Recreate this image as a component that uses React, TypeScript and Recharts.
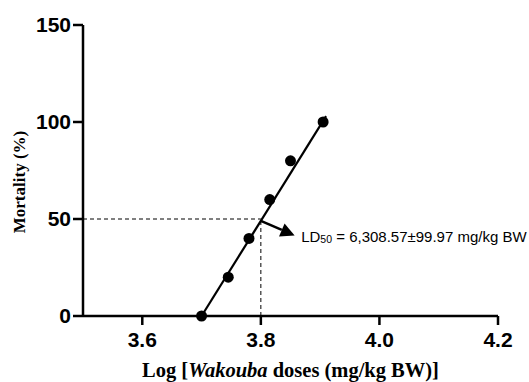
import React from 'react';
import { ComposedChart, Scatter, Line, XAxis, YAxis, ReferenceLine, ReferenceDot } from 'recharts';

// log10 of dose (mg/kg BW) vs mortality (%)
const logDoses = [3.7, 3.745, 3.78, 3.815, 3.85, 3.905];
const mortality = [0, 20, 40, 60, 80, 100];

// regression line ends
const fitLogDoses = [3.7, 3.91];
const fitMortality = [0, 103];

const ld50Log = 3.8;
const ld50Mortality = 50;
const arrowEnd = { x: 3.857, y: 41.5 };
const noteAt = { x: 3.868, y: 38 };

const xTicks = [3.6, 3.8, 4.0, 4.2];
const yTicks = [0, 50, 100, 150];

const points = logDoses.map((x, i) => ({ x, y: mortality[i] }));
const fitData = fitLogDoses.map((x, i) => ({ x, y: fitMortality[i] }));

const tickStyle = { fill: '#000', fontSize: 21, fontWeight: 700, fontFamily: 'Liberation Sans, Arial, sans-serif' };
const axisLine = { stroke: '#000', strokeWidth: 2.5 };

const XTitle = (props: any) => {
  const vb = props.viewBox || {};
  return (
    <text
      x={vb.x + vb.width / 2}
      y={vb.y + vb.height - 5}
      textAnchor="middle"
      fontFamily="Liberation Serif, Times New Roman, serif"
      fontWeight={700}
      fontSize={20.5}
      fill="#000"
    >
      Log [<tspan fontStyle="italic">Wakouba</tspan> doses (mg/kg BW)]
    </text>
  );
};

const YTitle = (props: any) => {
  const cx = 19;
  const cy = 182;
  return (
    <text
      x={cx}
      y={cy}
      transform={`rotate(-90 ${cx} ${cy})`}
      textAnchor="middle"
      dominantBaseline="central"
      fontFamily="Liberation Serif, Times New Roman, serif"
      fontWeight={700}
      fontSize={17}
      fill="#000"
    >
      Mortality (%)
    </text>
  );
};

const Arrow = (props: any) => {
  const { x1, y1, x2, y2 } = props;
  const dx = x2 - x1;
  const dy = y2 - y1;
  const len = Math.sqrt(dx * dx + dy * dy) || 1;
  const ux = dx / len;
  const uy = dy / len;
  const head = 14;
  const half = 7;
  const bx = x2 - ux * head;
  const by = y2 - uy * head;
  return (
    <g>
      <line x1={x1} y1={y1} x2={bx} y2={by} stroke="#000" strokeWidth={2.5} />
      <polygon
        points={`${x2},${y2} ${bx - uy * half},${by + ux * half} ${bx + uy * half},${by - ux * half}`}
        fill="#000"
      />
    </g>
  );
};

const Note = (props: any) => {
  const vb = props.viewBox || {};
  return (
    <text x={vb.x} y={vb.y} fontFamily="Liberation Sans, Arial, sans-serif" fontSize={15} fill="#000">
      LD<tspan fontSize={10.5} dy={1}>50</tspan>
      <tspan dy={-1}> = 6,308.57±99.97 mg/kg BW</tspan>
    </text>
  );
};

const Dot = (props: any) => <circle cx={props.cx} cy={props.cy} r={5.5} fill="#000" />;

export default function App() {
  return (
    <div style={{ position: 'absolute', left: 0, top: 0, background: '#fff' }}>
      <ComposedChart width={529} height={382} margin={{ top: 25, right: 31, left: 23, bottom: 0 }}>
        <XAxis
          type="number"
          dataKey="x"
          domain={[3.5, 4.2]}
          ticks={xTicks}
          tickFormatter={(v: number) => v.toFixed(1)}
          height={66}
          axisLine={axisLine}
          tickLine={axisLine}
          tickSize={9}
          tickMargin={7}
          tick={tickStyle}
          label={<XTitle />}
        />
        <YAxis
          type="number"
          dataKey="y"
          domain={[0, 150]}
          ticks={yTicks}
          width={60}
          axisLine={axisLine}
          tickLine={axisLine}
          tickSize={10}
          tickMargin={2}
          tick={tickStyle}
          label={<YTitle />}
        />
        <ReferenceLine
          segment={[{ x: 3.5, y: ld50Mortality }, { x: ld50Log, y: ld50Mortality }]}
          stroke="#000"
          strokeWidth={1}
          strokeDasharray="4 3"
        />
        <ReferenceLine
          segment={[{ x: ld50Log, y: 0 }, { x: ld50Log, y: ld50Mortality }]}
          stroke="#000"
          strokeWidth={1}
          strokeDasharray="4 3"
        />
        <Line
          data={fitData}
          dataKey="y"
          type="linear"
          stroke="#000"
          strokeWidth={2.2}
          dot={false}
          activeDot={false}
          isAnimationActive={false}
        />
        <Scatter data={points} dataKey="y" shape={<Dot />} isAnimationActive={false} />
        <ReferenceLine
          segment={[{ x: ld50Log, y: ld50Mortality - 1 }, arrowEnd]}
          shape={<Arrow />}
        />
        <ReferenceDot x={noteAt.x} y={noteAt.y} r={0} stroke="none" label={<Note />} />
      </ComposedChart>
    </div>
  );
}
